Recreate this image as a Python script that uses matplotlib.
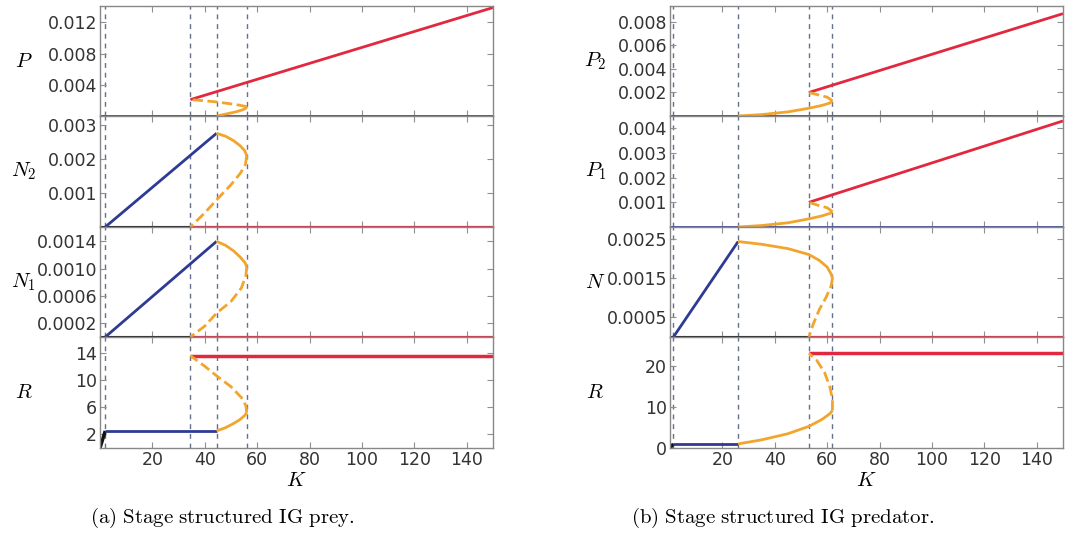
import matplotlib
matplotlib.use('Agg')
import matplotlib.pyplot as plt

plt.rcParams['mathtext.fontset'] = 'cm'
plt.rcParams['font.family'] = 'DejaVu Sans'

BLUE = '#2e3a94'
RED = '#e2283e'
ORANGE = '#f2a52c'
BLACK = '#111111'
K_MAX = 150
K_TICKS = [20, 40, 60, 80, 100, 120, 140]

# ---- (a) stage structured IG prey ----
a_bif = [2, 34.5, 44.5, 56]
a_names = ['P', 'N_2', 'N_1', 'R']
a_ytop = [0.0141, 0.00328, 0.00161, 16.3]
a_yticks = [[0.004, 0.008, 0.012],
            [0.001, 0.002, 0.003],
            [0.0002, 0.0006, 0.0010, 0.0014],
            [2, 6, 10, 14]]
a_yticklabels = [['0.004', '0.008', '0.012'],
                 ['0.001', '0.002', '0.003'],
                 ['0.0002', '0.0006', '0.0010', '0.0014'],
                 ['2', '6', '10', '14']]

a_P_red = ([34.5, 150], [0.0021, 0.0139])
a_P_solid = ([44.5, 48, 51.5, 54.5, 55.7, 56], [0.0, 0.00025, 0.0005, 0.0008, 0.001, 0.0012])
a_P_dash = ([56, 53, 49, 44.5, 40, 34.5], [0.0012, 0.0014, 0.0016, 0.0018, 0.00195, 0.0021])

a_N2_blue = ([2, 44.5], [0.0, 0.00277])
a_N2_solid = ([44.5, 48, 51, 53.5, 55.3, 56], [0.00277, 0.00268, 0.00255, 0.0024, 0.00225, 0.0021])
a_N2_dash = ([56, 55.5, 53.5, 50, 44.5, 40, 34.5], [0.0021, 0.00185, 0.00158, 0.00125, 0.0008, 0.00042, 0.0])

a_N1_blue = ([2, 44.5], [0.0, 0.0014])
a_N1_solid = ([44.5, 48, 51, 53.5, 55.3, 56], [0.0014, 0.00134, 0.00126, 0.00117, 0.00109, 0.00103])
a_N1_dash = ([56, 55.7, 54, 50, 44.5, 40, 34.5], [0.00103, 0.0009, 0.00072, 0.00052, 0.00035, 0.00016, 0.0])

a_R_black = ([0, 2], [0, 2.5])
a_R_blue = ([2, 44.5], [2.5, 2.5])
a_R_red = ([34.5, 150], [13.56, 13.56])
a_R_solid = ([44.5, 48, 51, 53.5, 55.3, 56], [2.5, 3.0, 3.6, 4.2, 4.8, 5.2])
a_R_dash = ([56, 55.7, 54, 50, 44.5, 40, 34.5], [5.2, 6.2, 7.4, 9.0, 10.6, 12.0, 13.56])

# ---- (b) stage structured IG predator ----
b_bif = [1.3, 26, 53, 62]
b_names = ['P_2', 'P_1', 'N', 'R']
b_ytop = [0.00935, 0.0045, 0.0028, 27.2]
b_yticks = [[0.002, 0.004, 0.006, 0.008],
            [0.001, 0.002, 0.003, 0.004],
            [0.0005, 0.0015, 0.0025],
            [0, 10, 20]]
b_yticklabels = [['0.002', '0.004', '0.006', '0.008'],
                 ['0.001', '0.002', '0.003', '0.004'],
                 ['0.0005', '0.0015', '0.0025'],
                 ['0', '10', '20']]

b_P2_red = ([53, 150], [0.002, 0.0087])
b_P2_solid = ([26, 35, 45, 53, 58, 61, 62], [0.0, 0.00012, 0.00035, 0.00066, 0.0009, 0.0011, 0.00129])
b_P2_dash = ([62, 60, 56.5, 53], [0.00129, 0.0016, 0.0018, 0.002])

b_P1_red = ([53, 150], [0.001, 0.0043])
b_P1_solid = ([26, 35, 45, 53, 58, 61, 62], [0.0, 0.00006, 0.00017, 0.00033, 0.00045, 0.00055, 0.00062])
b_P1_dash = ([62, 60, 56.5, 53], [0.00062, 0.00078, 0.00088, 0.001])

b_N_blue = ([1.3, 26], [0.0, 0.00243])
b_N_solid = ([26, 35, 45, 53, 57, 60, 61.5, 62], [0.00243, 0.00236, 0.00225, 0.0021, 0.00195, 0.00178, 0.0016, 0.0015])
b_N_dash = ([62, 61.5, 59.5, 57, 54.5, 53], [0.0015, 0.0013, 0.001, 0.0007, 0.0003, 0.0])

b_R_black = ([0, 1.3], [0, 1.0])
b_R_blue = ([1.3, 26], [1.0, 1.0])
b_R_red = ([53, 150], [23.2, 23.2])
b_R_solid = ([26, 35, 45, 53, 58, 61, 62], [1.0, 2.0, 3.5, 5.3, 7.0, 8.4, 9.2])
b_R_dash = ([62, 62, 61, 59, 56, 53], [9.2, 12, 15, 18.5, 21.5, 23.2])

W, H = 1067, 547
fig = plt.figure(figsize=(W / 100, H / 100), dpi=100)

rows = [6, 116, 227, 337, 448]


def make_axes(x0, x1):
    axs = []
    for i in range(4):
        rect = [x0 / W, 1 - rows[i + 1] / H, (x1 - x0) / W, (rows[i + 1] - rows[i]) / H]
        axs.append(fig.add_axes(rect))
    return axs


def line(ax, data, color, ls='-', lw=2.0, clip=True):
    ax.plot(data[0], data[1], color=color, ls=ls, lw=lw, clip_on=clip, solid_capstyle='butt')


def style(ax, i, ytop, ticks, labels, name, bif, label_x):
    ax.set_xlim(0, K_MAX)
    ax.set_ylim(0, ytop)
    for k in bif:
        ax.axvline(k, color='#66708a', lw=1.0, ls=(0, (3.5, 3.5)), zorder=1)
    ax.set_yticks(ticks)
    ax.set_yticklabels(labels)
    ax.set_xticks(K_TICKS)
    ax.tick_params(direction='in', length=4, color='#909090', labelcolor='#333333',
                   labelsize=12.5, right=True, top=True, pad=2)
    for s in ax.spines.values():
        s.set_color('#888888')
        s.set_linewidth(1.0)
    if i < 3:
        ax.set_xticklabels([])
    else:
        ax.set_xlabel(r'$K$', fontsize=15, labelpad=1)
    ax.set_ylabel(r'$%s$' % name, fontsize=15, rotation=0, ha='center', va='center')
    ax.yaxis.set_label_coords(label_x, 0.5)


# left figure
axA = make_axes(100, 493)
# P
line(axA[0], ([0, 150], [0, 0]), BLUE, clip=False)
line(axA[0], a_P_red, RED)
line(axA[0], a_P_solid, ORANGE)
line(axA[0], a_P_dash, ORANGE, ls='--')
# N2
line(axA[1], ([0, 150], [0, 0]), BLACK, lw=1.5, clip=False)
line(axA[1], ([34.5, 150], [0, 0]), RED, lw=1.5, clip=False)
line(axA[1], a_N2_blue, BLUE)
line(axA[1], a_N2_solid, ORANGE)
line(axA[1], a_N2_dash, ORANGE, ls='--')
# N1
line(axA[2], ([0, 150], [0, 0]), BLACK, lw=1.5, clip=False)
line(axA[2], ([34.5, 150], [0, 0]), RED, lw=1.5, clip=False)
line(axA[2], a_N1_blue, BLUE)
line(axA[2], a_N1_solid, ORANGE)
line(axA[2], a_N1_dash, ORANGE, ls='--')
# R
line(axA[3], a_R_black, BLACK, lw=2.5)
line(axA[3], a_R_blue, BLUE)
line(axA[3], a_R_red, RED, lw=2.5)
line(axA[3], a_R_solid, ORANGE)
line(axA[3], a_R_dash, ORANGE, ls='--')
for i, ax in enumerate(axA):
    style(ax, i, a_ytop[i], a_yticks[i], a_yticklabels[i], a_names[i], a_bif, -0.195)

# right figure
axB = make_axes(670, 1063)
line(axB[0], ([0, 150], [0, 0]), BLUE, clip=False)
line(axB[0], b_P2_red, RED)
line(axB[0], b_P2_solid, ORANGE)
line(axB[0], b_P2_dash, ORANGE, ls='--')
line(axB[1], ([0, 150], [0, 0]), BLUE, clip=False)
line(axB[1], b_P1_red, RED)
line(axB[1], b_P1_solid, ORANGE)
line(axB[1], b_P1_dash, ORANGE, ls='--')
line(axB[2], ([0, 150], [0, 0]), BLACK, lw=1.5, clip=False)
line(axB[2], ([53, 150], [0, 0]), RED, lw=1.5, clip=False)
line(axB[2], b_N_blue, BLUE)
line(axB[2], b_N_solid, ORANGE)
line(axB[2], b_N_dash, ORANGE, ls='--')
line(axB[3], b_R_black, BLACK, lw=2.5)
line(axB[3], b_R_blue, BLUE)
line(axB[3], b_R_red, RED, lw=2.5)
line(axB[3], b_R_solid, ORANGE)
line(axB[3], b_R_dash, ORANGE, ls='--')
for i, ax in enumerate(axB):
    style(ax, i, b_ytop[i], b_yticks[i], b_yticklabels[i], b_names[i], b_bif, -0.19)

fig.text(222 / W, 1 - 518 / H, r'$\mathrm{(a)\ Stage\ structured\ IG\ prey.}$',
         ha='center', va='center', fontsize=15)
fig.text(783 / W, 1 - 518 / H, r'$\mathrm{(b)\ Stage\ structured\ IG\ predator.}$',
         ha='center', va='center', fontsize=15)

fig.savefig('out.png', dpi=100)
